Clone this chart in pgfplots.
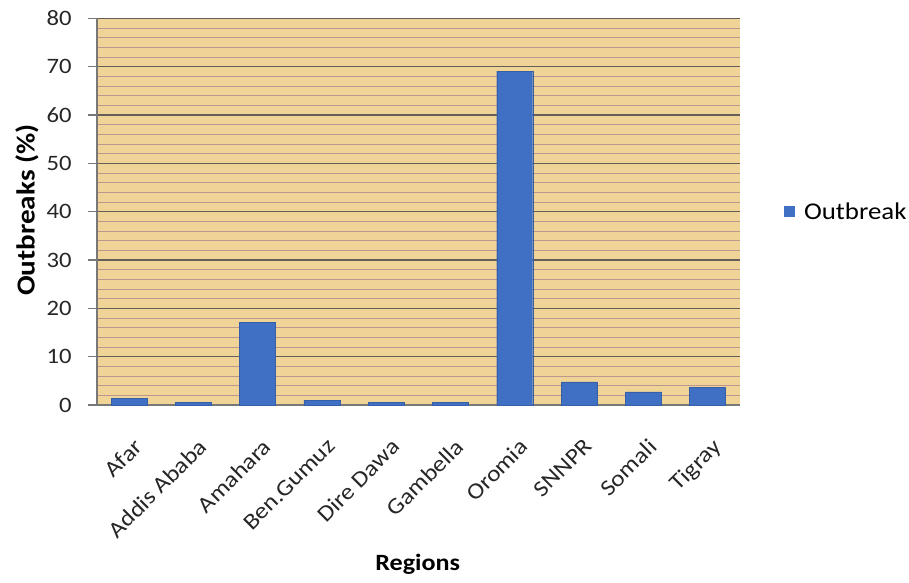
\documentclass[border=0pt]{standalone}
\usepackage{pgfplots}
\pgfplotsset{compat=1.18}
\usepackage{fontspec}
\setmainfont{Carlito}[FakeStretch=1.12]

\definecolor{barblue}{RGB}{64,112,196}
\definecolor{woodtan}{RGB}{240,211,150}
\definecolor{minorline}{RGB}{186,152,144}
\definecolor{majorline}{RGB}{100,95,90}
\definecolor{axisgray}{RGB}{120,120,120}

\begin{document}
\begin{tikzpicture}[x=1pt,y=1pt]
% fixed page frame around the plot area
\useasboundingbox (-72.75,-132.75) rectangle (609,303.75);
\begin{axis}[
  at={(0,0)}, anchor=south west,
  scale only axis, width=482pt, height=290pt,
  ymin=0, ymax=80, xmin=-0.5, xmax=9.5,
  ytick={0,10,...,80}, minor y tick num=4,
  ymajorgrids, yminorgrids,
  major grid style={majorline, line width=0.8pt},
  minor grid style={minorline, line width=0.6pt},
  axis background/.style={fill=woodtan},
  axis x line*=bottom, axis y line*=left,
  axis line style={axisgray, line width=0.8pt},
  y axis line style={-}, x axis line style={-},
  ytick style={axisgray, line width=0.8pt},
  tick align=outside, major tick length=6.5pt, minor tick length=0pt,
  xtick=data, xtick style={draw=none},
  xticklabels={Afar, Addis Ababa, Amahara, Ben.Gumuz, Dire Dawa, Gambella, Oromia, SNNPR, Somali, Tigray},
  x tick label style={rotate=45, anchor=north east, xshift=-7pt, yshift=-11pt,
    font=\fontsize{17}{19}\selectfont, text=black!85},
  y tick label style={font=\fontsize{16.5}{18}\selectfont, text=black!85, xshift=-9pt},
  /pgf/number format/assume math mode=true,
  ylabel={\textbf{Outbreaks (\%)}},
  ylabel style={at={(axis description cs:-0.109,0.504)}, anchor=center, rotate=0,
    font=\fontsize{19.5}{21}\selectfont},
  xlabel={\textbf{Regions}},
  xlabel style={at={(axis description cs:0.499,-0.413)}, anchor=center,
    font=\fontsize{17.5}{19}\selectfont},
  ybar, bar width=27pt,
  legend style={at={(axis description cs:1.0686,0.5)}, anchor=west, draw=none,
    fill=none, font=\fontsize{18}{20}\selectfont, inner sep=0pt},
  % square swatch plus a little blank room before the entry text
  legend image code/.code={\fill[barblue, draw=none] (0pt,-4pt) rectangle (8pt,4pt);
    \path[draw=none, fill=none] (8pt,0pt) rectangle (13pt,0.1pt);},
]
\addplot[fill=barblue, draw=barblue!85!black, line width=0.3pt]
  coordinates {(0,1.4) (1,0.5) (2,17.1) (3,1.0) (4,0.5) (5,0.5) (6,69.1) (7,4.8) (8,2.7) (9,3.7)};
\addlegendentry{Outbreak}
\end{axis}
\end{tikzpicture}
\end{document}
